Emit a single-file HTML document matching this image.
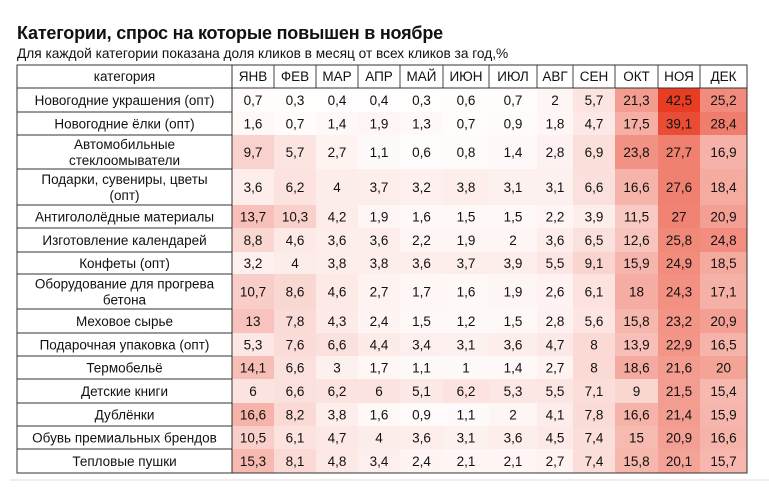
<!DOCTYPE html>
<html><head><meta charset="utf-8">
<style>
body{margin:0;background:#fff;width:769px;height:487px;overflow:hidden;font-family:"Liberation Sans","DejaVu Sans",sans-serif;color:#111;position:relative}
#title{position:absolute;left:17px;top:23px;font-size:18px;font-weight:bold;letter-spacing:-0.2px}
#sub{position:absolute;left:17px;top:46px;font-size:13.7px}
svg{position:absolute;left:0;top:0}
text{font-family:"Liberation Sans","DejaVu Sans",sans-serif;font-size:13.5px;fill:#111}
</style></head><body>
<div id="title">Категории, спрос на которые повышен в ноябре</div>
<div id="sub">Для каждой категории показана доля кликов в месяц от всех кликов за год,%</div>
<svg id="chart" width="769" height="487"></svg>
<script>
const months=["ЯНВ","ФЕВ","МАР","АПР","МАЙ","ИЮН","ИЮЛ","АВГ","СЕН","ОКТ","НОЯ","ДЕК"];
const categories=[["Новогодние украшения (опт)"],["Новогодние ёлки (опт)"],["Автомобильные","стеклоомыватели"],["Подарки, сувениры, цветы","(опт)"],["Антигололёдные материалы"],["Изготовление календарей"],["Конфеты (опт)"],["Оборудование для прогрева","бетона"],["Меховое сырье"],["Подарочная упаковка (опт)"],["Термобельё"],["Детские книги"],["Дублёнки"],["Обувь премиальных брендов"],["Тепловые пушки"]];
const values=[
[0.7,0.3,0.4,0.4,0.3,0.6,0.7,2,5.7,21.3,42.5,25.2],
[1.6,0.7,1.4,1.9,1.3,0.7,0.9,1.8,4.7,17.5,39.1,28.4],
[9.7,5.7,2.7,1.1,0.6,0.8,1.4,2.8,6.9,23.8,27.7,16.9],
[3.6,6.2,4,3.7,3.2,3.8,3.1,3.1,6.6,16.6,27.6,18.4],
[13.7,10.3,4.2,1.9,1.6,1.5,1.5,2.2,3.9,11.5,27,20.9],
[8.8,4.6,3.6,3.6,2.2,1.9,2,3.6,6.5,12.6,25.8,24.8],
[3.2,4,3.8,3.8,3.6,3.7,3.9,5.5,9.1,15.9,24.9,18.5],
[10.7,8.6,4.6,2.7,1.7,1.6,1.9,2.6,6.1,18,24.3,17.1],
[13,7.8,4.3,2.4,1.5,1.2,1.5,2.8,5.6,15.8,23.2,20.9],
[5.3,7.6,6.6,4.4,3.4,3.1,3.6,4.7,8,13.9,22.9,16.5],
[14.1,6.6,3,1.7,1.1,1,1.4,2.7,8,18.6,21.6,20],
[6,6.6,6.2,6,5.1,6.2,5.3,5.5,7.1,9,21.5,15.4],
[16.6,8.2,3.8,1.6,0.9,1.1,2,4.1,7.8,16.6,21.4,15.9],
[10.5,6.1,4.7,4,3.6,3.1,3.6,4.5,7.4,15,20.9,16.6],
[15.3,8.1,4.8,3.4,2.4,2.1,2.1,2.7,7.4,15.8,20.1,15.7]];
const svg=document.getElementById('chart');
const NS='http://www.w3.org/2000/svg';
const colX=[17,232,274,316,358,400,443,489,537,573,615,658,700,747];
const rowY=[65,88,112,135,169,205,228,252,274,309,333,356,379,403,426,449,473];
function mk(t,a){const e=document.createElementNS(NS,t);for(const k in a)e.setAttribute(k,a[k]);svg.appendChild(e);return e;}
function color(v){const t=Math.min(v/42.5,1);const r=Math.round(255-23*t),g=Math.round(255-195*t),b=Math.round(255-220*t);return `rgb(${r},${g},${b})`;}
values.forEach((row,i)=>{row.forEach((v,j)=>{
 const x=colX[j+1],w=colX[j+2]-x,y=rowY[i+1],h=rowY[i+2]-y;
 const r=mk('rect',{x:x,y:y,width:w,height:h,fill:color(v)});
 
 
 const t=mk('text',{x:x+w/2,y:y+h/2+5,'text-anchor':'middle'});
 t.textContent=String(v).replace('.',',');
 
 
});});
const hl=mk('text',{x:(colX[0]+colX[1])/2,y:81,'text-anchor':'middle'});hl.textContent='категория';


months.forEach((m,j)=>{const x=(colX[j+1]+colX[j+2])/2;const t=mk('text',{x:x,y:81,'text-anchor':'middle','font-size':'12.5'});t.textContent=m;
 
 
 mk('line',{x1:colX[j+1],x2:colX[j+1],y1:65,y2:88,stroke:'#444','stroke-width':1});});
categories.forEach((c,i)=>{const y0=rowY[i+1],y1=rowY[i+2],cx=(colX[0]+colX[1])/2;
 c.forEach((line,k)=>{const t=mk('text',{x:cx,y:(y0+y1)/2+5+(k-(c.length-1)/2)*16,'text-anchor':'middle'});t.textContent=line;
 
 });
 mk('line',{x1:17,x2:232,y1:y1,y2:y1,stroke:'#333','stroke-width':1});});
mk('line',{x1:17,x2:747,y1:88,y2:88,stroke:'#333','stroke-width':1});
mk('line',{x1:232,x2:232,y1:65,y2:473,stroke:'#333','stroke-width':1});
mk('rect',{x:17,y:65,width:730,height:408,fill:'none',stroke:'#333','stroke-width':1});
mk('line',{x1:10,x2:769,y1:480,y2:480,stroke:'#ddd','stroke-width':1});
</script>
</body></html>
